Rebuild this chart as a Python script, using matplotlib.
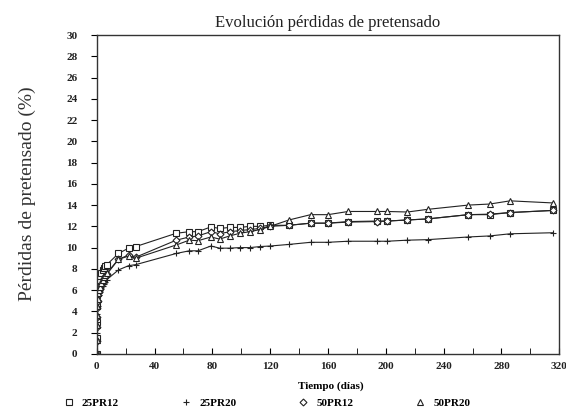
import matplotlib
matplotlib.use('Agg')
import matplotlib.pyplot as plt
from matplotlib.lines import Line2D

# tiempos de medida (días)
dias = [0, 0.05, 0.1, 0.2, 0.4, 0.7, 1, 1.5, 2, 3, 4, 5, 6, 7,
        15, 22, 27, 55, 64, 70, 79, 85, 92, 99, 106, 113, 120,
        133, 148, 160, 174, 194, 201, 215, 229, 257, 272, 286, 316]

pr25_12 = [0, 1.5, 3.0, 4.5, 5.5, 6.2, 6.6, 7.0, 7.3, 7.6, 7.9, 8.1, 8.3, 8.4,
           9.45, 9.95, 10.1, 11.35, 11.5, 11.5, 11.95, 11.8, 11.9, 11.9, 12.0, 12.0, 12.1,
           12.1, 12.3, 12.3, 12.45, 12.5, 12.5, 12.6, 12.7, 13.1, 13.1, 13.3, 13.5]
pr25_20 = [0, 1.0, 2.0, 3.0, 3.8, 4.5, 5.0, 5.5, 5.8, 6.1, 6.4, 6.6, 6.8, 7.0,
           7.9, 8.3, 8.4, 9.45, 9.7, 9.7, 10.15, 9.95, 9.95, 10.0, 10.0, 10.1, 10.15,
           10.3, 10.5, 10.5, 10.6, 10.6, 10.6, 10.7, 10.75, 11.0, 11.1, 11.3, 11.4]
pr50_12 = [0, 1.2, 2.5, 3.5, 4.3, 5.0, 5.5, 5.9, 6.2, 6.6, 6.9, 7.1, 7.3, 7.5,
           8.9, 9.3, 9.1, 10.7, 11.0, 11.1, 11.5, 11.3, 11.5, 11.6, 11.7, 11.8, 12.0,
           12.1, 12.3, 12.3, 12.4, 12.45, 12.5, 12.6, 12.7, 13.1, 13.15, 13.3, 13.5]
pr50_20 = [0, 1.3, 2.7, 3.7, 4.5, 5.2, 5.7, 6.0, 6.3, 6.7, 7.0, 7.2, 7.4, 7.6,
           8.9, 9.2, 9.0, 10.25, 10.7, 10.65, 11.0, 10.8, 11.1, 11.35, 11.5, 11.7, 12.0,
           12.6, 13.1, 13.1, 13.4, 13.4, 13.4, 13.35, 13.6, 14.0, 14.1, 14.4, 14.2]

series = [('25PR12', pr25_12, 's'), ('25PR20', pr25_20, '+'),
          ('50PR12', pr50_12, 'D'), ('50PR20', pr50_20, '^')]

tick_font = {'family': 'Liberation Serif', 'weight': 'bold', 'size': 8}

fig = plt.figure(figsize=(5.66, 4.12), dpi=100)
ax = fig.add_axes([0.171, 0.141, 0.817, 0.774])

for nombre, valores, mk in series:
    ms = 3.5 if mk == 'D' else 4.5
    ax.plot(dias, valores, color='#222222', lw=0.8, marker=mk, ms=ms,
            mfc='white', mec='#222222', mew=0.8)

ax.set_xlim(0, 320)
ax.set_ylim(0, 30)
ax.set_xticks(range(0, 321, 40))
ax.set_xticks(range(0, 321, 20), minor=True)
ax.set_yticks(range(0, 31, 2))
ax.tick_params(axis='x', which='both', direction='in', length=4, pad=6)
ax.tick_params(axis='y', direction='out', length=4, pad=10)
for lbl in ax.get_xticklabels() + ax.get_yticklabels():
    lbl.set_fontproperties(tick_font)
    lbl.set_color('#222222')
for s in ax.spines.values():
    s.set_color('#333333')
    s.set_linewidth(1.0)

ax.set_title('Evolución pérdidas de pretensado', family='Liberation Serif',
             fontsize=12, pad=6, color='#222222')
fig.text(0.048, 0.53, 'Pérdidas de pretensado (%)', rotation=90, ha='center',
         va='center', family='Liberation Serif', fontsize=14, color='#333333')
fig.text(0.585, 0.063, 'Tiempo (días)', ha='center', va='center', **tick_font)

handles = []
for nombre, valores, mk in series:
    ms = 3.5 if mk == 'D' else 4.5
    handles.append(Line2D([], [], ls='none', marker=mk, ms=ms, mfc='white',
                          mec='#222222', mew=0.8, label=nombre))
fig.legend(handles=handles, loc='center', bbox_to_anchor=(0.47, 0.022), ncol=4,
           frameon=False, prop=tick_font, columnspacing=5.4, handlelength=1.2,
           handletextpad=0.6)

fig.savefig('out.png', dpi=100)
